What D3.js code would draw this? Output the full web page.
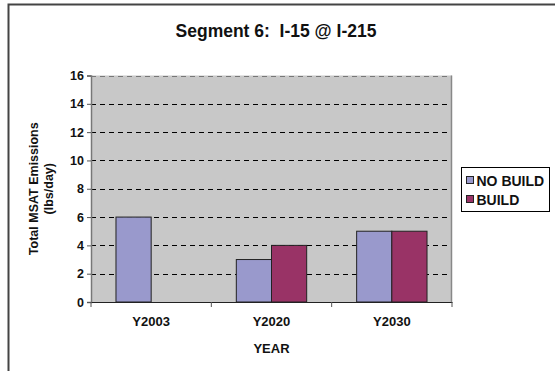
<!DOCTYPE html>
<html>
<head>
<meta charset="utf-8">
<script src="https://cdn.jsdelivr.net/npm/d3@7"></script>
<style>
  html, body { margin: 0; padding: 0; background: #fff; }
  svg { display: block; font-family: "Liberation Sans", Arial, sans-serif; }
</style>
</head>
<body>
<script>
// Chart data
const categories = ["Y2003", "Y2020", "Y2030"];
const seriesNames = ["NO BUILD", "BUILD"];
const noBuild = [6, 3, 5];
const build = [0, 4, 5];
const yTicks = [0, 2, 4, 6, 8, 10, 12, 14, 16];
const seriesColors = ["#9999CC", "#993366"];

const W = 555, H = 371;
const plot = { left: 91, right: 452, top: 75.5, bottom: 302 };
const FONT = "Liberation Sans, Arial, sans-serif";

const svg = d3.select("body").append("svg").attr("width", W).attr("height", H);

// Outer chart frame
svg.append("rect")
  .attr("x", 8.5).attr("y", 4.5).attr("width", 560).attr("height", 380)
  .attr("fill", "#fff").attr("stroke", "#444").attr("stroke-width", 2);

// Title
svg.append("text")
  .attr("x", 276).attr("y", 37)
  .attr("text-anchor", "middle")
  .attr("font-size", 17.5).attr("font-weight", "bold").attr("fill", "#111")
  .attr("xml:space", "preserve")
  .text("Segment 6:  I-15 @ I-215");

const x0 = d3.scaleBand().domain(categories).range([plot.left, plot.right]).padding(0);
const x1 = d3.scaleBand().domain(seriesNames)
  .range([0, x0.bandwidth()]).paddingInner(0).paddingOuter(0.71);
const y = d3.scaleLinear().domain([0, 16]).range([plot.bottom, plot.top]);

// Plot background
svg.append("rect")
  .attr("x", plot.left).attr("y", plot.top)
  .attr("width", plot.right - plot.left).attr("height", plot.bottom - plot.top)
  .attr("fill", "#C8C8C8");

// Dashed gridlines
svg.append("g").selectAll("line").data(yTicks.filter(d => d > 0)).join("line")
  .attr("x1", plot.left).attr("x2", plot.right)
  .attr("y1", d => Math.round(y(d)) + 0.5).attr("y2", d => Math.round(y(d)) + 0.5)
  .attr("stroke", d => d === 16 ? "#777" : "#000")
  .attr("stroke-width", 1)
  .attr("stroke-dasharray", "5,4");

// Right edge of plot area
svg.append("line")
  .attr("x1", plot.right - 0.5).attr("x2", plot.right - 0.5)
  .attr("y1", plot.top).attr("y2", plot.bottom)
  .attr("stroke", "#888").attr("stroke-width", 1.5);

// Bars
const rows = categories.map((c, i) => ({ cat: c, values: [noBuild[i], build[i]] }));
const groups = svg.append("g").selectAll("g").data(rows).join("g")
  .attr("transform", d => `translate(${x0(d.cat)},0)`);
groups.selectAll("rect")
  .data(d => d.values.map((v, j) => ({ name: seriesNames[j], v, j })).filter(e => e.v > 0))
  .join("rect")
  .attr("x", d => x1(d.name))
  .attr("y", d => y(d.v))
  .attr("width", x1.bandwidth())
  .attr("height", d => y(0) - y(d.v))
  .attr("fill", d => seriesColors[d.j])
  .attr("stroke", "#222").attr("stroke-width", 1);

// Y axis
const yAxis = svg.append("g")
  .attr("transform", `translate(${plot.left},0)`)
  .call(d3.axisLeft(y).tickValues(yTicks).tickSize(4).tickPadding(3));
yAxis.select(".domain").attr("stroke", "#777").attr("stroke-width", 1.5);
yAxis.selectAll(".tick line").attr("stroke", "#555");
yAxis.selectAll("text").attr("font-size", 12.5).attr("font-weight", "bold")
  .attr("font-family", FONT).attr("fill", "#111");

// X axis
const xAxis = svg.append("g")
  .attr("transform", `translate(0,${plot.bottom})`)
  .call(d3.axisBottom(x0).tickSize(0).tickPadding(15));
xAxis.select(".domain").attr("stroke", "#222").attr("stroke-width", 1.2);
xAxis.selectAll("text").attr("font-size", 13).attr("font-weight", "bold")
  .attr("font-family", FONT).attr("fill", "#111");
// Category separators below the axis
const bounds = categories.map(c => x0(c)).concat([plot.right]);
xAxis.append("g").selectAll("line").data(bounds).join("line")
  .attr("x1", d => d).attr("x2", d => d)
  .attr("y1", 0).attr("y2", 5)
  .attr("stroke", "#555").attr("stroke-width", 1);

// Axis titles
svg.append("text")
  .attr("x", (plot.left + plot.right) / 2).attr("y", 353)
  .attr("text-anchor", "middle").attr("fill", "#111")
  .attr("font-size", 13).attr("font-weight", "bold").text("YEAR");

const yTitle = svg.append("text")
  .attr("transform", `translate(38,${(plot.top + plot.bottom) / 2}) rotate(-90)`)
  .attr("text-anchor", "middle").attr("fill", "#111")
  .attr("font-size", 12.5).attr("font-weight", "bold");
yTitle.append("tspan").attr("x", 0).attr("dy", 0).text("Total MSAT Emissions");
yTitle.append("tspan").attr("x", 0).attr("dy", 15).text("(lbs/day)");

// Legend
const legend = svg.append("g").attr("transform", "translate(461.5,167.5)");
legend.append("rect")
  .attr("width", 88).attr("height", 44)
  .attr("fill", "#fff").attr("stroke", "#000").attr("stroke-width", 1);
const items = legend.selectAll("g.item").data(seriesNames).join("g")
  .attr("class", "item")
  .attr("transform", (d, i) => `translate(5,${13 + i * 19})`);
items.append("rect")
  .attr("x", 0).attr("y", -4).attr("width", 7).attr("height", 7)
  .attr("fill", (d, i) => seriesColors[i]).attr("stroke", "#222").attr("stroke-width", 1);
items.append("text")
  .attr("x", 10).attr("y", 5)
  .attr("font-size", 14).attr("font-weight", "bold").attr("fill", "#111").text(d => d);
</script>
</body>
</html>
